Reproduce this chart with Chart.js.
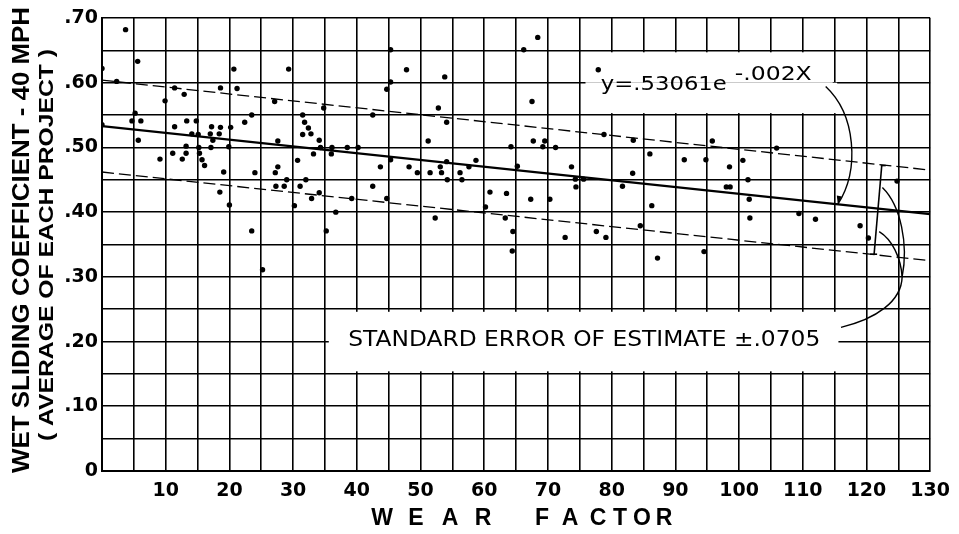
<!DOCTYPE html>
<html>
<head>
<meta charset="utf-8">
<script src="https://cdn.jsdelivr.net/npm/chart.js@4.4.0/dist/chart.umd.min.js"></script>
<style>
  html,body{margin:0;padding:0;background:#fff;}
  canvas{display:block;}
</style>
</head>
<body>
<canvas id="chart" width="959" height="534"></canvas>
<script>
/* DATA */
const wearFactor = [
  3.7, 5.6, 0, 20.7, 2.3, 11.4, 12.9, 18.6, 21.2, 9.9,
  5.2, 4.7, 6.1, 0, 11.4, 13.3, 14.8, 17.2, 18.6, 20.2,
  14.1, 15.1, 17.0, 18.4, 17.4, 5.7, 13.2, 17.1, 19.9, 15.2,
  11.1, 13.2, 15.3, 9.1, 12.6, 15.7, 16.1, 19.1, 18.5, 20.0,
  29.3, 27.1, 34.8, 42.5, 23.5, 22.4, 31.5, 31.8, 32.4, 31.5,
  32.8, 34.1, 27.6, 34.3, 36.1, 38.5, 40.2, 36.0, 33.2, 30.7,
  27.6, 24.0, 27.2, 29.0, 32.0, 27.3, 28.6, 31.1, 42.5, 34.1,
  32.9, 39.2, 30.2, 36.7, 23.5, 35.2, 25.2,
  45.3, 47.8, 53.8, 45.3, 44.7, 52.8, 54.1, 51.2, 64.2, 45.3,
  43.7, 48.2, 54.1, 58.7, 57.6, 49.5, 51.5, 53.1, 53.3, 56.2,
  54.2, 56.5, 60.9, 63.5, 44.7, 60.2, 52.3, 63.3, 64.5, 64.4, 65.2,
  68.4, 66.2, 77.9, 67.5, 78.8, 67.7, 69.5, 83.4, 69.2, 71.2,
  86.0, 73.7, 83.3, 74.3, 75.6, 74.4, 81.7, 67.3, 70.3, 86.3,
  84.5, 77.6, 79.1, 72.7, 87.2,
  95.8, 105.9, 91.4, 94.8, 100.6, 98.5, 101.4, 98.0, 98.6, 101.6,
  101.7, 94.5,
  124.8, 109.4, 112.0, 119.0, 120.3
];
const slidingCoef = [
  .682, .633, .622, .621, .602, .592, .582, .592, .591, .572,
  .553, .541, .541, .535, .532, .541, .541, .532, .531, .531,
  .521, .520, .521, .521, .511, .511, .502, .500, .501, .500,
  .491, .491, .491, .482, .482, .481, .472, .462, .431, .411,
  .621, .571, .561, .550, .550, .539, .550, .539, .530, .520,
  .521, .511, .510, .500, .500, .500, .500, .490, .490, .480,
  .470, .461, .461, .450, .450, .440, .440, .440, .440, .430,
  .421, .421, .410, .400, .371, .371, .311,
  .651, .620, .609, .601, .590, .561, .539, .510, .501, .481,
  .470, .470, .478, .480, .470, .461, .461, .470, .461, .461,
  .450, .450, .431, .429, .421, .408, .391, .391, .370, .340, .471,
  .670, .651, .620, .571, .520, .510, .510, .511, .501, .500,
  .490, .470, .460, .451, .451, .439, .440, .420, .420, .410,
  .379, .370, .361, .361, .329,
  .510, .499, .481, .481, .480, .470, .450, .439, .439, .420,
  .391, .339,
  .448, .398, .389, .379, .360
];

// fitted curve and standard error band, as drawn
const fitX   = [0, 130];
const fitY   = [0.533, 0.397];
const upperY = [0.604, 0.465];
const lowerY = [0.462, 0.325];

// tick labels
const xTickValues = [10, 20, 30, 40, 50, 60, 70, 80, 90, 100, 110, 120, 130];
const yTickValues = [0, 0.1, 0.2, 0.3, 0.4, 0.5, 0.6, 0.7];
const yTickLabels = ['0', '.10', '.20', '.30', '.40', '.50', '.60', '.70'];

const eqMain = 'y=.53061e';
const eqExp = '-.002X';
const errText = 'STANDARD ERROR OF ESTIMATE \u00B1.0705';
const yTitle1 = 'WET SLIDING COEFFICIENT - 40 MPH';
const yTitle2 = '( AVERAGE OF EACH PROJECT )';
const xTitleWords = ['WEAR', 'FACTOR'];

/* HELPERS */
function pts(xs, ys){ return xs.map((x,i)=>({x, y:ys[i]})); }

function fitText(ctx, text, cx, cy, width, font, rot){
  ctx.save();
  ctx.font = font;
  const w = ctx.measureText(text).width;
  ctx.translate(cx, cy);
  if(rot) ctx.rotate(rot);
  ctx.scale(width/w, 1);
  ctx.textAlign = 'center';
  ctx.textBaseline = 'middle';
  ctx.fillText(text, 0, 0);
  ctx.restore();
}

/* PAPER: white label boxes, lettering and leaders */
const paper = {
  id: 'paper',
  beforeDatasetsDraw(chart){
    const {ctx, scales:{x, y}} = chart;
    const box = (x0, x1, y0, y1) => {
      ctx.fillRect(x.getPixelForValue(x0), y.getPixelForValue(y1),
        x.getPixelForValue(x1)-x.getPixelForValue(x0),
        y.getPixelForValue(y0)-y.getPixelForValue(y1));
    };
    ctx.save();
    ctx.fillStyle = '#fff';
    box(75.9, 114.7, 0.600, 0.647);
    box(75.9, 115.4, 0.553, 0.600);
    box(35.6, 115.6, 0.154, 0.246);
    ctx.restore();
  },
  afterDraw(chart){
    const {ctx, scales:{x, y}} = chart;
    const P = (a, b) => [x.getPixelForValue(a), y.getPixelForValue(b)];
    ctx.save();
    ctx.fillStyle = '#000';
    ctx.strokeStyle = '#000';

    // equation
    const e1 = P(78.3, 0.587), e2 = P(99.4, 0.603);
    fitText(ctx, eqMain, e1[0]+63, e1[1]-6, 126, '20px "DejaVu Sans"');
    fitText(ctx, eqExp, e2[0]+38, e2[1]-6, 77, '19px "DejaVu Sans"');

    // standard error
    const s = P(75.7, 0.201);
    fitText(ctx, errText, s[0], s[1], 472, '21px "DejaVu Sans"');

    // leaders
    ctx.lineWidth = 1.4;
    let a = P(113.6, 0.594), c1 = P(118.3, 0.551), c2 = P(119.0, 0.466), b = P(115.5, 0.412);
    ctx.beginPath(); ctx.moveTo(...a); ctx.bezierCurveTo(...c1, ...c2, ...b); ctx.stroke();
    ctx.beginPath(); ctx.moveTo(b[0], b[1]); ctx.lineTo(b[0]-1, b[1]-9); ctx.lineTo(b[0]+4, b[1]-8); ctx.closePath(); ctx.fill();

    a = P(116.0, 0.222); c1 = P(121.5, 0.235); c2 = P(125.5, 0.262); b = P(125.6, 0.300);
    ctx.beginPath(); ctx.moveTo(...a); ctx.bezierCurveTo(...c1, ...c2, ...b); ctx.stroke();
    a = P(125.6, 0.300); c1 = P(126.6, 0.350); c2 = P(125.4, 0.410); b = P(122.5, 0.438);
    ctx.beginPath(); ctx.moveTo(...a); ctx.bezierCurveTo(...c1, ...c2, ...b); ctx.stroke();
    a = P(125.6, 0.300); c1 = P(125.4, 0.330); c2 = P(124.0, 0.358); b = P(122.0, 0.370);
    ctx.beginPath(); ctx.moveTo(...a); ctx.bezierCurveTo(...c1, ...c2, ...b); ctx.stroke();

    // bracket between the error bounds
    a = P(122.4, 0.472); b = P(121.2, 0.335);
    ctx.lineWidth = 1.6;
    ctx.beginPath(); ctx.moveTo(...a); ctx.lineTo(...b); ctx.stroke();
    ctx.beginPath(); ctx.moveTo(a[0]-1, a[1]); ctx.lineTo(a[0]+4, a[1]); ctx.stroke();
    ctx.beginPath(); ctx.moveTo(b[0]-4, b[1]); ctx.lineTo(b[0]+3, b[1]); ctx.stroke();

    // axis titles
    fitText(ctx, yTitle1, 22, 240, 466, 'bold 24px "Liberation Sans"', -Math.PI/2);
    fitText(ctx, yTitle2, 47, 245, 392, 'bold 20px "Liberation Sans"', -Math.PI/2);

    ctx.font = 'bold 23px "Liberation Sans"';
    ctx.textAlign = 'center';
    ctx.textBaseline = 'middle';
    const wx = [382, 416, 450, 483];
    const fx = [542, 570, 598, 620, 642, 664];
    xTitleWords[0].split('').forEach((ch,i)=>ctx.fillText(ch, wx[i], 519));
    xTitleWords[1].split('').forEach((ch,i)=>ctx.fillText(ch, fx[i], 519));
    ctx.restore();
  }
};

/* CHART */
new Chart(document.getElementById('chart'), {
  type: 'scatter',
  data: {
    datasets: [
      { data: pts(wearFactor, slidingCoef), backgroundColor:'#000', borderColor:'#000',
        pointRadius: 2.7, pointBorderWidth: 0 },
      { data: pts(fitX, fitY), showLine:true, borderColor:'#000', borderWidth:2.4, pointRadius:0 },
      { data: pts(fitX, upperY), showLine:true, borderColor:'#000', borderWidth:1.3,
        borderDash:[12,5], pointRadius:0 },
      { data: pts(fitX, lowerY), showLine:true, borderColor:'#000', borderWidth:1.3,
        borderDash:[12,5], pointRadius:0 }
    ]
  },
  options: {
    responsive: false,
    animation: false,
    devicePixelRatio: 1,
    layout: { padding: { top: 18, right: 26, left: 0, bottom: 0 } },
    plugins: { legend: { display:false }, tooltip: { enabled:false } },
    scales: {
      x: {
        type: 'linear', min: 0, max: 130,
        afterFit(s){ s.height = 63; },
        ticks: {
          stepSize: 5, autoSkip: false, maxRotation: 0, padding: 9, color: '#000',
          font: { family: '"DejaVu Sans"', size: 19, weight: 'bold' },
          callback: v => xTickValues.includes(v) ? String(v) : ''
        },
        grid: { color: '#000', lineWidth: 1.6, drawTicks: false },
        border: { color: '#000', width: 2 }
      },
      y: {
        min: 0, max: 0.7,
        afterFit(s){ s.width = 102; },
        ticks: {
          stepSize: 0.05, autoSkip: false, padding: 4, color: '#000',
          font: { family: '"DejaVu Sans"', size: 19, weight: 'bold' },
          callback: v => {
            const i = yTickValues.findIndex(t => Math.abs(t - v) < 1e-6);
            return i >= 0 ? yTickLabels[i] : '';
          }
        },
        grid: { color: '#000', lineWidth: 1.6, drawTicks: false },
        border: { color: '#000', width: 2 }
      }
    }
  },
  plugins: [paper]
});
</script>
</body>
</html>
